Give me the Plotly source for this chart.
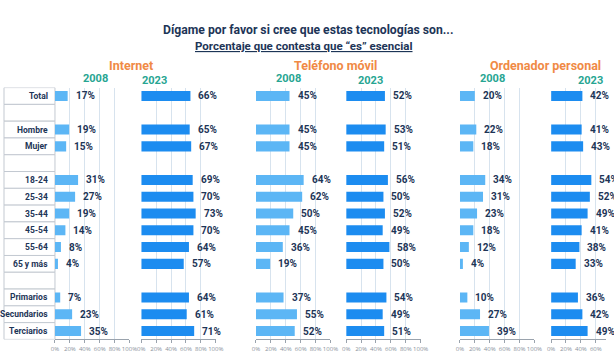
import plotly.graph_objects as go

W, H = 614, 360

title = "Dígame por favor si cree que estas tecnologías son..."
subtitle = "Porcentaje que contesta que “es” esencial"

categories = ["Total", "", "Hombre", "Mujer", "", "18-24", "25-34", "35-44",
              "45-54", "55-64", "65 y más", "", "Primarios", "Secundarios", "Terciarios"]

groups = ["Internet", "Teléfono móvil", "Ordenador personal"]
years = ["2008", "2023"]

internet_2008 = [17, None, 19, 15, None, 31, 27, 19, 14, 8, 4, None, 7, 23, 35]
internet_2023 = [66, None, 65, 67, None, 69, 70, 73, 70, 64, 57, None, 64, 61, 71]
telefono_2008 = [45, None, 45, 45, None, 64, 62, 50, 45, 36, 19, None, 37, 55, 52]
telefono_2023 = [52, None, 53, 51, None, 56, 50, 52, 49, 58, 50, None, 54, 49, 51]
ordenador_2008 = [20, None, 22, 18, None, 34, 31, 23, 18, 12, 4, None, 10, 27, 39]
ordenador_2023 = [42, None, 41, 43, None, 54, 52, 49, 41, 38, 33, None, 36, 42, 49]

tick_vals = [0, 20, 40, 60, 80, 100]
tick_text = ["0%", "20%", "40%", "60%", "80%", "100%"]

series = [internet_2008, internet_2023, telefono_2008, telefono_2023, ordenador_2008, ordenador_2023]

# layout (pixels)
panel_px = [(52, 128), (140, 216), (257, 333), (349, 425), (465, 541), (558, 634)]
plot_top, plot_bottom = 87.6, 339.4
label_box_right = 52

C_OLD = "#5cb6f5"
C_NEW = "#1c8cf0"
NAVY = "#1d3557"
ORANGE = "#f08a45"
TEAL = "#27a592"
GRID = "#d7e3ee"
AXIS = "#9aa3ad"
FONT = "Roboto"

def px2x(p):
    return p / W

def py2y(p):
    return 1 - p / H

ypos = list(range(len(categories)))

fig = go.Figure()
layout = dict(
    width=W, height=H,
    margin=dict(l=0, r=0, t=0, b=0),
    paper_bgcolor="white", plot_bgcolor="white",
    showlegend=False,
    bargap=0.4,
    yaxis=dict(domain=[py2y(plot_bottom), py2y(plot_top)],
               range=[len(categories) - 0.5, -0.5],
               showticklabels=False, showgrid=False, zeroline=False,
               showline=False, anchor="x", fixedrange=True),
)

annotations = []
shapes = []

for k, vals in enumerate(series):
    ax = "x" if k == 0 else f"x{k+1}"
    axkey = "xaxis" if k == 0 else f"xaxis{k+1}"
    x0p, x1p = panel_px[k]
    if x1p > W:
        dom = [px2x(x0p), 1.0]
        rng = [0, 100 * (W - x0p) / (x1p - x0p)]
    else:
        dom = [px2x(x0p), px2x(x1p)]
        rng = [0, 100]
    layout[axkey] = dict(
        domain=dom, range=rng, anchor="y",
        tickvals=tick_vals, ticktext=tick_text, tickangle=0,
        showgrid=True, gridcolor=GRID, gridwidth=1,
        zeroline=False, showline=True, linecolor=AXIS, linewidth=1,
        ticks="outside", ticklen=3, tickcolor=AXIS,
        tickfont=dict(family="Open Sans", size=6, color="#8a929c"),
        fixedrange=True,
    )
    color = C_OLD if k % 2 == 0 else C_NEW
    fig.add_trace(go.Bar(
        x=vals, y=ypos, orientation="h", xaxis=ax, yaxis="y",
        marker=dict(color=color, line=dict(width=0)),
        hoverinfo="skip",
    ))
    for i, v in enumerate(vals):
        if v is None:
            continue
        annotations.append(dict(
            x=v, y=i, xref=ax, yref="y", text=f"<b>{v}%</b>",
            showarrow=False, xanchor="left", yanchor="middle", xshift=6,
            font=dict(family=FONT, size=10, color=NAVY),
        ))

# category table
for i, c in enumerate(categories):
    shapes.append(dict(type="rect", xref="paper", yref="y",
                       x0=0, x1=px2x(label_box_right), y0=i - 0.5, y1=i + 0.5,
                       line=dict(color="#c3c9d1", width=1), fillcolor="white",
                       layer="below"))
    if c:
        annotations.append(dict(
            x=px2x(46.5), y=i, xref="paper", yref="y", text=f"<b>{c}</b>",
            showarrow=False, xanchor="right", yanchor="middle",
            font=dict(family=FONT, size=8.5, color=NAVY),
        ))

# titles
annotations.append(dict(x=px2x(310), y=py2y(30), xref="paper", yref="paper",
                        text=f"<b>{title}</b>", showarrow=False,
                        xanchor="center", yanchor="middle",
                        font=dict(family=FONT, size=12.2, color=NAVY)))
annotations.append(dict(x=px2x(306), y=py2y(46), xref="paper", yref="paper",
                        text=f"<b><u>{subtitle}</u></b>", showarrow=False,
                        xanchor="center", yanchor="middle",
                        font=dict(family=FONT, size=11.5, color=NAVY)))

group_centers = [130, 338, 552]
for g, cx in zip(groups, group_centers):
    annotations.append(dict(x=px2x(cx), y=py2y(65.5), xref="paper", yref="paper",
                            text=f"<b>{g}</b>", showarrow=False,
                            xanchor="center", yanchor="middle",
                            font=dict(family=FONT, size=12.5, color=ORANGE)))

year_centers = [(93, 78.5), (153, 80), (290, 78.5), (374, 80), (498, 78.5), (598, 80)]
for k, (cx, cy) in enumerate(year_centers):
    annotations.append(dict(x=px2x(cx), y=py2y(cy), xref="paper", yref="paper",
                            text=f"<b>{years[k % 2]}</b>", showarrow=False,
                            xanchor="center", yanchor="middle",
                            font=dict(family=FONT, size=11, color=TEAL)))

layout["annotations"] = annotations
layout["shapes"] = shapes
fig.update_layout(**layout)
fig.write_html("out.html", config={"displayModeBar": False},
               post_script="document.body.style.margin='0';document.body.style.overflow='hidden';")
